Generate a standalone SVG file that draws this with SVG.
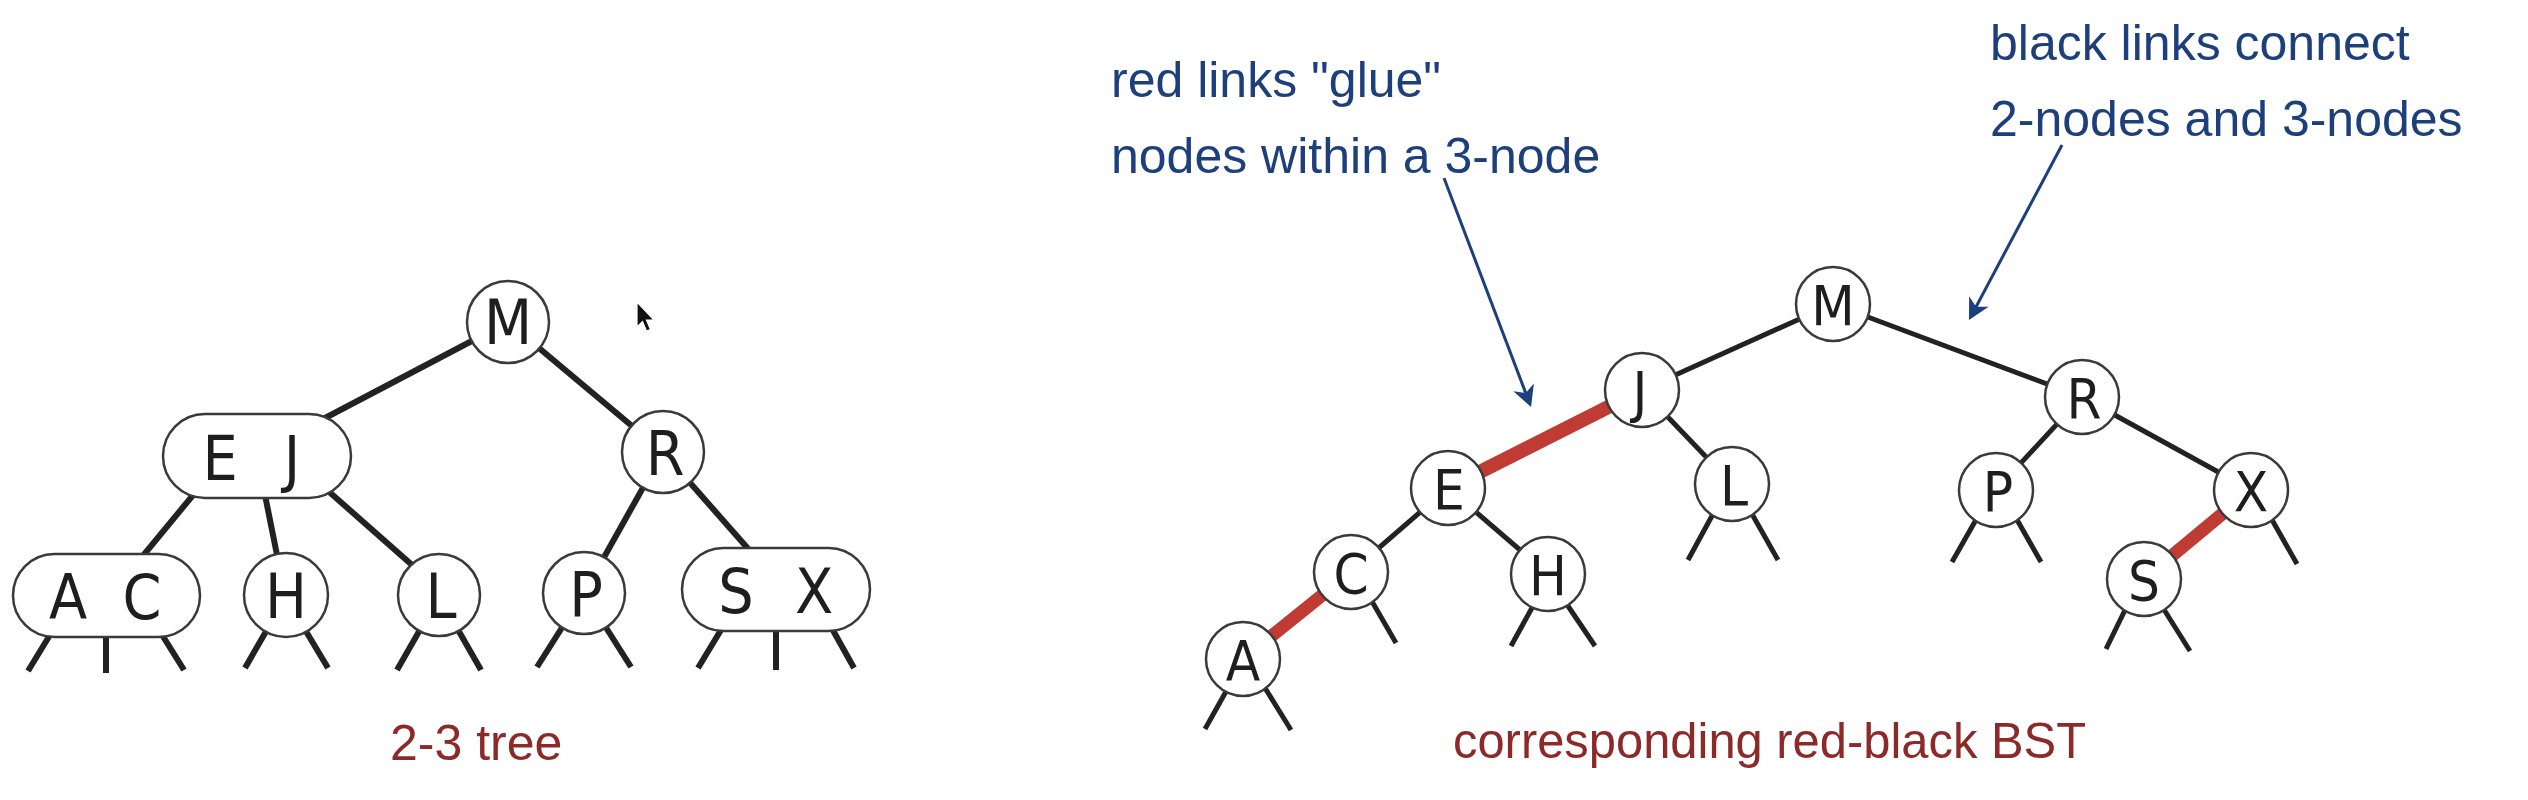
<svg xmlns="http://www.w3.org/2000/svg" width="2528" height="800" viewBox="0 0 2528 800">
<style>
.bg{fill:#ffffff}
.nd{fill:#ffffff;stroke:#3a3a3a;stroke-width:2.5}
.lbl{font-family:"DejaVu Sans Condensed","DejaVu Sans",sans-serif;font-stretch:condensed;fill:#1e1e1e;text-anchor:middle}
.big{font-size:62px}
.sm{font-size:56px}
.e23{stroke:#222222;stroke-width:6;fill:none}
.erb{stroke:#222222;stroke-width:5;fill:none}
.red{stroke:#BF3B33;stroke-width:14;fill:none}
.note{font-family:"Liberation Sans",Arial,sans-serif;font-size:50px;fill:#1D3F7C}
.cap{font-family:"Liberation Sans",Arial,sans-serif;font-size:50px;fill:#8C2A2A}
.arr{stroke:#1D3F7C;stroke-width:3;fill:none;marker-end:url(#ah)}
</style>
<defs>
<marker id="ah" markerUnits="userSpaceOnUse" viewBox="0 0 24 24" markerWidth="24" markerHeight="24" refX="12" refY="12" orient="auto">
<path d="M1,1 L22,12 L1,23 L7,12 Z" fill="#1D3F7C"/>
</marker>
</defs>
<rect class="bg" x="0" y="0" width="2528" height="800"/>

<g id="connectors">
<!-- 2-3 tree links -->
<line class="e23" x1="508" y1="322" x2="306" y2="428"/>
<line class="e23" x1="508" y1="322" x2="663" y2="452"/>
<line class="e23" x1="203" y1="483" x2="137" y2="563"/>
<line class="e23" x1="262" y1="480" x2="280" y2="570"/>
<line class="e23" x1="318" y1="482" x2="420" y2="572"/>
<line class="e23" x1="663" y1="452" x2="584" y2="593"/>
<line class="e23" x1="663" y1="452" x2="765" y2="568"/>
<!-- 2-3 tree null links -->
<line class="e23" x1="53" y1="630" x2="28" y2="671"/>
<line class="e23" x1="106" y1="630" x2="106" y2="673"/>
<line class="e23" x1="159" y1="630" x2="184" y2="670"/>
<line class="e23" x1="268" y1="628" x2="245" y2="668"/>
<line class="e23" x1="304" y1="628" x2="328" y2="668"/>
<line class="e23" x1="421" y1="628" x2="397" y2="670"/>
<line class="e23" x1="457" y1="628" x2="481" y2="670"/>
<line class="e23" x1="563" y1="626" x2="537" y2="667"/>
<line class="e23" x1="605" y1="626" x2="631" y2="667"/>
<line class="e23" x1="724" y1="625" x2="698" y2="668"/>
<line class="e23" x1="776" y1="625" x2="776" y2="670"/>
<line class="e23" x1="830" y1="625" x2="854" y2="668"/>
<!-- red-black BST links -->
<line class="erb" x1="1833" y1="304" x2="1642" y2="390"/>
<line class="erb" x1="1833" y1="304" x2="2082" y2="397"/>
<line class="red" x1="1642" y1="390" x2="1448" y2="488"/>
<line class="erb" x1="1642" y1="390" x2="1732" y2="484"/>
<line class="erb" x1="1448" y1="488" x2="1351" y2="572"/>
<line class="erb" x1="1448" y1="488" x2="1548" y2="574"/>
<line class="red" x1="1351" y1="572" x2="1243" y2="659" style="stroke-width:13"/>
<line class="erb" x1="2082" y1="397" x2="1996" y2="490"/>
<line class="erb" x1="2082" y1="397" x2="2251" y2="490"/>
<line class="red" x1="2251" y1="490" x2="2144" y2="579" style="stroke-width:13"/>
<!-- red-black BST null links -->
<line class="erb" x1="1228" y1="688" x2="1205" y2="729"/>
<line class="erb" x1="1265" y1="688" x2="1291" y2="730"/>
<line class="erb" x1="1370" y1="598" x2="1396" y2="643"/>
<line class="erb" x1="1533" y1="606" x2="1511" y2="646"/>
<line class="erb" x1="1568" y1="606" x2="1595" y2="646"/>
<line class="erb" x1="1713" y1="514" x2="1688" y2="560"/>
<line class="erb" x1="1752" y1="514" x2="1778" y2="560"/>
<line class="erb" x1="1977" y1="518" x2="1952" y2="562"/>
<line class="erb" x1="2016" y1="518" x2="2041" y2="562"/>
<line class="erb" x1="2271" y1="518" x2="2297" y2="564"/>
<line class="erb" x1="2126" y1="608" x2="2106" y2="649"/>
<line class="erb" x1="2163" y1="608" x2="2190" y2="651"/>
<!-- annotation arrows -->
<line class="arr" x1="1444" y1="178" x2="1527.5" y2="397.6"/>
<line class="arr" x1="2062" y1="145" x2="1973.7" y2="311.2"/>
</g>

<!-- 2-3 tree nodes -->
<g id="t-M"><circle class="nd" cx="508" cy="322" r="41"/><text class="lbl big" x="508" y="344">M</text></g>
<g id="t-EJ"><rect class="nd" x="163" y="414" width="188" height="84" rx="42"/><text class="lbl big" x="220" y="480">E</text><text class="lbl big" x="292" y="480">J</text></g>
<g id="t-R"><circle class="nd" cx="663" cy="452" r="41"/><text class="lbl big" x="665" y="475">R</text></g>
<g id="t-AC"><rect class="nd" x="13" y="554" width="187" height="83" rx="41.5"/><text class="lbl big" x="68" y="619">A</text><text class="lbl big" x="142" y="619">C</text></g>
<g id="t-H"><circle class="nd" cx="286" cy="595" r="42"/><text class="lbl big" x="286" y="618">H</text></g>
<g id="t-L"><circle class="nd" cx="439" cy="595" r="41"/><text class="lbl big" x="441" y="618">L</text></g>
<g id="t-P"><circle class="nd" cx="584" cy="593" r="41"/><text class="lbl big" x="586" y="616">P</text></g>
<g id="t-SX"><rect class="nd" x="682" y="548" width="188" height="83" rx="41.5"/><text class="lbl big" x="736" y="613">S</text><text class="lbl big" x="814" y="613">X</text></g>

<!-- red-black BST nodes -->
<g id="b-M"><circle class="nd" cx="1833" cy="304" r="37"/><text class="lbl sm" x="1833" y="325">M</text></g>
<g id="b-J"><circle class="nd" cx="1642" cy="390" r="37"/><text class="lbl sm" x="1640" y="411">J</text></g>
<g id="b-R"><circle class="nd" cx="2082" cy="397" r="37"/><text class="lbl sm" x="2084" y="418">R</text></g>
<g id="b-E"><circle class="nd" cx="1448" cy="488" r="37"/><text class="lbl sm" x="1449" y="509">E</text></g>
<g id="b-L"><circle class="nd" cx="1732" cy="484" r="37"/><text class="lbl sm" x="1734" y="505">L</text></g>
<g id="b-P"><circle class="nd" cx="1996" cy="490" r="37"/><text class="lbl sm" x="1998" y="511">P</text></g>
<g id="b-X"><circle class="nd" cx="2251" cy="490" r="37"/><text class="lbl sm" x="2251" y="511">X</text></g>
<g id="b-C"><circle class="nd" cx="1351" cy="572" r="37"/><text class="lbl sm" x="1351" y="593">C</text></g>
<g id="b-H"><circle class="nd" cx="1548" cy="574" r="37"/><text class="lbl sm" x="1548" y="595">H</text></g>
<g id="b-S"><circle class="nd" cx="2144" cy="579" r="37"/><text class="lbl sm" x="2144" y="600">S</text></g>
<g id="b-A"><circle class="nd" cx="1243" cy="659" r="37"/><text class="lbl sm" x="1243" y="680">A</text></g>

<!-- annotations -->
<g id="notes">
<text class="note" x="1111" y="97">red links &quot;glue&quot;</text>
<text class="note" x="1111" y="173">nodes within a 3-node</text>
<text class="note" x="1990" y="60">black links connect</text>
<text class="note" x="1990" y="136">2-nodes and 3-nodes</text>
</g>
<g id="captions">
<text class="cap" x="390" y="760">2-3 tree</text>
<text class="cap" x="1453" y="758" textLength="633" lengthAdjust="spacingAndGlyphs">corresponding red-black BST</text>
</g>

<!-- mouse pointer -->
<path d="M637,302 L637,327 L642.5,321.5 L646.5,331 L650.5,329.5 L646.5,320 L654,320 Z" fill="#111111" stroke="#ffffff" stroke-width="1.2"/>
</svg>
